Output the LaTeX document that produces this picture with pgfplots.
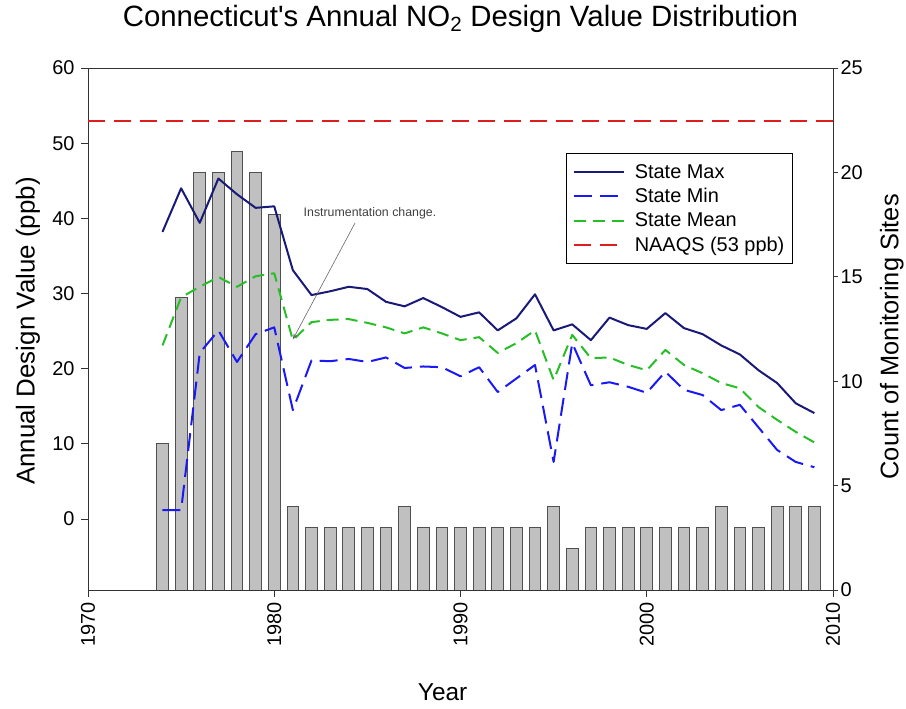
\documentclass[border=0pt]{standalone}
\usepackage{fontspec}
\setmainfont{Liberation Sans}
\usepackage{pgfplots}
\usepackage{pgfplotstable}
\pgfplotsset{compat=1.18}
\usetikzlibrary{arrows.meta}
\definecolor{cmax}{RGB}{25,25,120}
\definecolor{cmin}{RGB}{25,25,245}
\definecolor{cmean}{RGB}{40,190,40}
\definecolor{cnaaqs}{RGB}{220,30,30}
\definecolor{barfill}{RGB}{192,192,192}
\definecolor{bardraw}{RGB}{80,80,80}

\pgfplotstableread{
year count max min mean
1974 7  38.2 1.2  23.1
1975 14 44.0 1.2  29.5
1976 20 39.4 22.1 30.9
1977 20 45.3 25.1 32.2
1978 21 43.2 20.9 30.9
1979 20 41.4 24.6 32.3
1980 18 41.6 25.5 32.7
1981 4  33.1 14.5 23.8
1982 3  29.8 21.1 26.2
1983 3  30.3 21.0 26.5
1984 3  30.9 21.3 26.6
1985 3  30.6 20.9 26.1
1986 3  28.9 21.5 25.5
1987 4  28.3 20.1 24.7
1988 3  29.4 20.3 25.5
1989 3  28.2 20.2 24.7
1990 3  26.9 19.0 23.8
1991 3  27.5 20.2 24.2
1992 3  25.1 16.9 22.1
1993 3  26.7 18.7 23.4
1994 3  29.9 20.5 25.1
1995 4  25.1 7.6  18.5
1996 2  25.9 23.4 24.5
1997 3  23.8 17.8 21.4
1998 3  26.8 18.2 21.5
1999 3  25.8 17.6 20.5
2000 3  25.3 16.8 19.8
2001 3  27.4 19.6 22.5
2002 3  25.4 17.2 20.5
2003 3  24.6 16.5 19.4
2004 4  23.1 14.5 18.1
2005 3  21.9 15.2 17.4
2006 3  19.8 12.2 14.9
2007 4  18.1 9.2  13.2
2008 4  15.4 7.6  11.6
2009 4  14.1 6.9  10.2
}\data

\begin{document}
\begin{tikzpicture}
\useasboundingbox (-88bp,-119bp) rectangle (818bp,590bp);
\begin{axis}[
  scale only axis, width=745bp, height=522bp, at={(0,0)}, anchor=south west,
  xmin=1970, xmax=2010, ymin=0, ymax=25,
  axis x line=none, axis y line*=right,
  y axis line style={-, line width=0.9bp, black!80},
  ytick={0,5,...,25}, tick align=outside, major tick length=5bp,
  every tick/.style={black!80, line width=0.9bp},
  /pgf/number format/assume math mode=true,
  yticklabel style={font=\fontsize{20}{24}\selectfont, xshift=-1bp},
  ylabel={Count of Monitoring Sites},
  ylabel style={at={(axis description cs:1.079,0.485)}, anchor=center, font=\fontsize{25.5}{30}\selectfont},
]
\addplot[ybar, bar width=0.63, bar shift=0pt, fill=barfill, draw=bardraw, line width=0.8bp]
  table[x=year, y=count]{\data};
\end{axis}
\begin{axis}[
  scale only axis, width=745bp, height=522bp, at={(0,0)}, anchor=south west,
  xmin=1970, xmax=2010, ymin=-9.43, ymax=60,
  xtick={1970,1980,...,2010}, ytick={0,10,...,60},
  tick pos=left, tick align=outside, major tick length=7bp,
  axis line style={line width=0.9bp, black!80},
  every tick/.style={black!80, line width=0.9bp},
  /pgf/number format/assume math mode=true,
  /pgf/number format/1000 sep={},
  yticklabel style={font=\fontsize{20}{24}\selectfont, xshift=-3bp},
  xticklabel style={font=\fontsize{20}{24}\selectfont, rotate=90, anchor=east, xshift=-2bp},
  title={Connecticut\textquotesingle s Annual NO\textsubscript{2} Design Value Distribution},
  title style={at={(axis description cs:0.5,1)}, anchor=base, yshift=36bp, font=\fontsize{29.5}{34}\selectfont},
  xlabel={Year},
  xlabel style={at={(axis description cs:0.476,0)}, anchor=base, yshift=-110bp, font=\fontsize{24.5}{28}\selectfont},
  ylabel={Annual Design Value (ppb)},
  ylabel style={at={(axis description cs:-0.0805,0.496)}, anchor=center, font=\fontsize{26}{30}\selectfont},
  legend style={at={(axis description cs:0.946,0.837)}, anchor=north east, draw=black, line width=0.9bp, fill=white,
    font=\fontsize{20}{24}\selectfont, inner xsep=6bp, inner ysep=9bp, row sep=4.5bp, column sep=8bp, cells={anchor=west}},
  legend image code/.code={\draw[#1] (0bp,0bp) -- (50bp,0bp);},
]
\addplot[cmax, line width=2bp, line join=round] table[x=year, y=max]{\data};
\addlegendentry{State Max}
\addplot[cmin, line width=2bp, line join=round, dash pattern=on 18bp off 8bp] table[x=year, y=min]{\data};
\addlegendentry{State Min}
\addplot[cmean, line width=2bp, line join=round, dash pattern=on 12bp off 7bp] table[x=year, y=mean]{\data};
\addlegendentry{State Mean}
\addplot[cnaaqs, line width=2.2bp, dash pattern=on 17bp off 9bp] coordinates {(1970,53) (2010,53)};
\addlegendentry{NAAQS (53 ppb)}
\draw[black!60, line width=0.6bp, -{Stealth[length=6bp, width=4bp]}] (axis cs:1984.34,39.4) -- (axis cs:1981.0,23.9);
\node[font=\fontsize{12.4}{14}\selectfont, text=black!75] at (axis cs:1985.14,40.7) {Instrumentation change.};
\end{axis}
\end{tikzpicture}
\end{document}
